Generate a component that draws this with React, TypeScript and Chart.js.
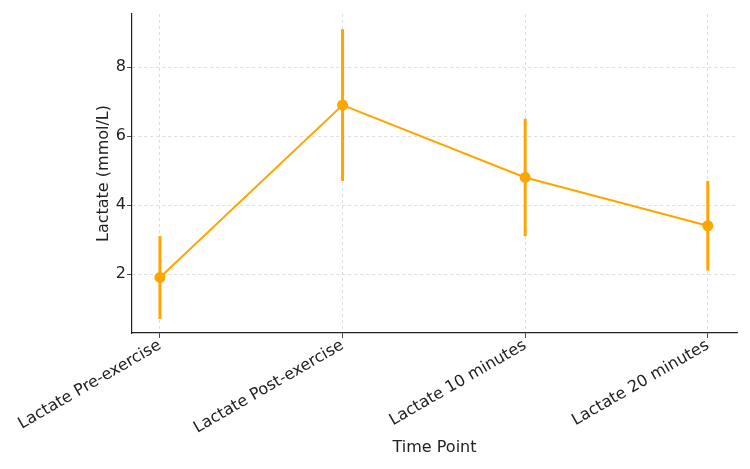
import React, { useEffect, useRef } from "react";
import { Chart, registerables } from "chart.js";

Chart.register(...registerables);

const categories = [
  "Lactate Pre-exercise",
  "Lactate Post-exercise",
  "Lactate 10 minutes",
  "Lactate 20 minutes",
];
const means = [1.9, 6.9, 4.8, 3.4];
const errLow = [0.7, 4.7, 3.1, 2.1];
const errHigh = [3.1, 9.1, 6.5, 4.7];
const yTicks = [2, 4, 6, 8];
const xTicks = [0, 1, 2, 3];

const ORANGE = "#FFA500";
const FONT = "'DejaVu Sans', sans-serif";

const errorBarPlugin = {
  id: "errorBars",
  beforeDatasetsDraw(chart: any) {
    const { ctx, scales } = chart;
    const x = scales.x;
    const y = scales.y;
    ctx.save();
    ctx.strokeStyle = ORANGE;
    ctx.lineWidth = 3;
    for (let i = 0; i < means.length; i++) {
      const px = x.getPixelForValue(i);
      ctx.beginPath();
      ctx.moveTo(px, y.getPixelForValue(errLow[i]));
      ctx.lineTo(px, y.getPixelForValue(errHigh[i]));
      ctx.stroke();
    }
    ctx.restore();
  },
};

export default function App() {
  const ref = useRef<HTMLCanvasElement | null>(null);
  useEffect(() => {
    if (!ref.current) return;
    const chart = new Chart(ref.current, {
      type: "line",
      data: {
        datasets: [
          {
            data: means.map((v, i) => ({ x: i, y: v })),
            borderColor: ORANGE,
            backgroundColor: ORANGE,
            borderWidth: 2,
            pointRadius: 5.5,
            pointBorderWidth: 0,
            pointBackgroundColor: ORANGE,
            tension: 0,
          },
        ],
      },
      options: {
        animation: false,
        responsive: false,
        devicePixelRatio: 1,
        layout: { padding: { top: 14, right: 13, left: 0, bottom: 0 } },
        plugins: { legend: { display: false }, tooltip: { enabled: false } },
        scales: {
          x: {
            type: "linear",
            min: -0.153,
            max: 3.16,
            afterBuildTicks: (s: any) => {
              s.ticks = xTicks.map((v) => ({ value: v }));
            },
            afterFit: (s: any) => {
              s.height = 136;
            },
            ticks: {
              autoSkip: false,
              minRotation: 30,
              maxRotation: 30,
              color: "#222",
              font: { family: FONT, size: 16 },
              padding: -2,
              callback: (v: any) => categories[v] ?? "",
            },
            grid: {
              color: "#d6d6d6",
              tickColor: "#222",
              tickBorderDash: [],
              tickLength: 5,
              lineWidth: 0.8,
            },
            border: { display: true, color: "#222", width: 1.2, dash: [3, 3] },
            title: {
              display: true,
              text: "Time Point",
              color: "#222",
              font: { family: FONT, size: 16 },
              padding: { top: 12, bottom: 12 },
            },
          },
          y: {
            type: "linear",
            min: 0.29,
            max: 9.54,
            afterBuildTicks: (s: any) => {
              s.ticks = yTicks.map((v) => ({ value: v }));
            },
            afterFit: (s: any) => {
              s.width = 132;
            },
            ticks: {
              color: "#222",
              font: { family: FONT, size: 16 },
              padding: 1,
            },
            grid: {
              color: "#d6d6d6",
              tickColor: "#222",
              tickBorderDash: [],
              tickLength: 5,
              lineWidth: 0.8,
            },
            border: { display: true, color: "#222", width: 1.2, dash: [3, 3] },
            title: {
              display: true,
              text: "Lactate (mmol/L)",
              color: "#222",
              font: { family: FONT, size: 16 },
              padding: { top: 94, bottom: 94 },
            },
          },
        },
      },
      plugins: [errorBarPlugin],
    });
    return () => chart.destroy();
  }, []);
  return (
    <div style={{ position: "fixed", left: 0, top: 0, width: 750, height: 469, background: "#fff" }}>
      <canvas ref={ref} width={750} height={469} style={{ width: 750, height: 469 }} />
    </div>
  );
}
